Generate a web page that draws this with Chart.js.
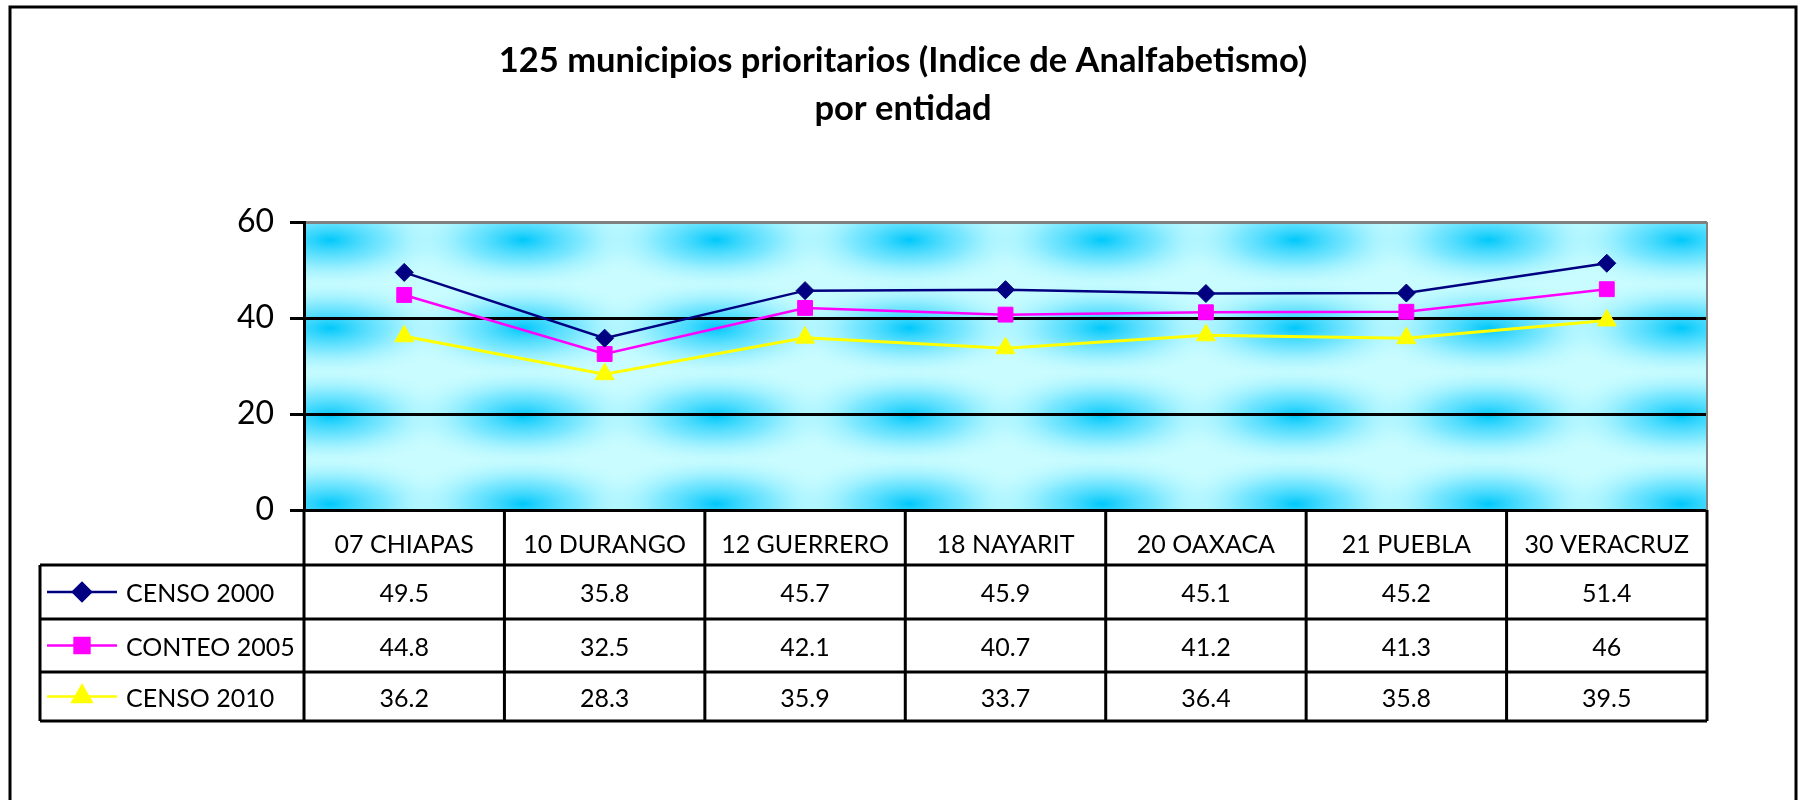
<!DOCTYPE html>
<html>
<head>
<meta charset="utf-8">
<script src="https://cdn.jsdelivr.net/npm/chart.js@4"></script>
<style>
  body { margin: 0; background: #fff; }
  #caja { width: 1805px; height: 800px; }
</style>
</head>
<body>
<div id="caja"><canvas id="graficoAnalfabetismo"></canvas></div>
<script>
// datos
const categorias = ['07 CHIAPAS', '10 DURANGO', '12 GUERRERO', '18 NAYARIT', '20 OAXACA', '21 PUEBLA', '30 VERACRUZ'];
const series = ['CENSO 2000', 'CONTEO 2005', 'CENSO 2010'];
const censo2000 = [49.5, 35.8, 45.7, 45.9, 45.1, 45.2, 51.4];
const conteo2005 = [44.8, 32.5, 42.1, 40.7, 41.2, 41.3, 46];
const censo2010 = [36.2, 28.3, 35.9, 33.7, 36.4, 35.8, 39.5];
const marcasY = [0, 20, 40, 60];
const titulo = ['125 municipios prioritarios (Indice de Analfabetismo)', 'por entidad'];

document.addEventListener('DOMContentLoaded', () => {
    const colores = ['#000080', '#FF00FF', '#FFFF00'];
    const formas = ['rectRot', 'rect', 'triangle'];
    const radios = [9, 10.5, 11];
    const valores = [censo2000, conteo2005, censo2010];
    const fuente = 'Lato, "DejaVu Sans", sans-serif';
    const filas = [565, 619, 672, 721]; // bordes de la tabla de datos
    const tablaIzq = 40;

    // fondo azul con manchas
    const fondo = {
        id: 'fondo',
        beforeDraw(chart) {
            const { ctx, chartArea: a } = chart;
            ctx.save();
            ctx.fillStyle = '#fff';
            ctx.fillRect(0, 0, chart.width, chart.height);
            ctx.beginPath();
            ctx.rect(a.left, a.top, a.width, a.height);
            ctx.clip();
            ctx.fillStyle = '#c8fcff';
            ctx.fillRect(a.left, a.top, a.width, a.height);
            const pasoX = 193, pasoY = 88;
            for (let y = a.top + 18 - pasoY; y < a.bottom + pasoY; y += pasoY) {
                for (let x = a.left + 26 - pasoX; x < a.right + pasoX; x += pasoX) {
                    ctx.save();
                    ctx.translate(x, y);
                    ctx.scale(1, 0.4);
                    const g = ctx.createRadialGradient(0, 0, 0, 0, 0, 122);
                    g.addColorStop(0, 'rgba(0,200,250,1)');
                    g.addColorStop(0.45, 'rgba(80,220,255,0.65)');
                    g.addColorStop(1, 'rgba(190,248,255,0)');
                    ctx.fillStyle = g;
                    ctx.fillRect(-125, -125, 250, 250);
                    ctx.restore();
                }
            }
            ctx.restore();
        }
    };

    // titulo, marco y tabla de datos
    const tabla = {
        id: 'tabla',
        afterDraw(chart) {
            const { ctx, chartArea: a } = chart;
            const xs = chart.scales.x;
            const paso = (xs.right - xs.left) / categorias.length;
            ctx.save();

            ctx.fillStyle = '#000';
            ctx.font = 'bold 34.5px ' + fuente;
            ctx.textAlign = 'center';
            ctx.textBaseline = 'middle';
            ctx.fillText(titulo[0], 903, 61);
            ctx.fillText(titulo[1], 903, 109);

            ctx.strokeStyle = '#000';
            ctx.lineWidth = 3;
            ctx.strokeRect(10, 7, 1786, 830);

            // borde derecho del area de trazado
            ctx.strokeStyle = '#808080';
            ctx.lineWidth = 2;
            ctx.beginPath();
            ctx.moveTo(a.right, a.top);
            ctx.lineTo(a.right, a.bottom);
            ctx.stroke();

            ctx.strokeStyle = '#000';
            ctx.lineWidth = 3;
            ctx.beginPath();
            filas.forEach(y => { ctx.moveTo(tablaIzq, y); ctx.lineTo(xs.right, y); });
            ctx.moveTo(tablaIzq, filas[0]);
            ctx.lineTo(tablaIzq, filas[3]);
            for (let i = 0; i <= categorias.length; i++) {
                const x = xs.left + i * paso;
                ctx.moveTo(x, a.bottom);
                ctx.lineTo(x, filas[3]);
            }
            ctx.stroke();

            ctx.font = '25px ' + fuente;
            series.forEach((nombre, s) => {
                const yc = (filas[s] + filas[s + 1]) / 2;
                ctx.strokeStyle = colores[s];
                ctx.fillStyle = colores[s];
                ctx.lineWidth = 2.5;
                ctx.beginPath();
                ctx.moveTo(47, yc);
                ctx.lineTo(117, yc);
                ctx.stroke();
                Chart.helpers.drawPoint(ctx, { pointStyle: formas[s], radius: radios[s], rotation: 0, borderWidth: 1 }, 82, yc);
                ctx.fillStyle = '#000';
                ctx.textAlign = 'left';
                ctx.fillText(nombre, 126, yc + 2);
                ctx.textAlign = 'center';
                valores[s].forEach((v, i) => {
                    ctx.fillText(String(v), xs.getPixelForValue(i), yc + 2);
                });
            });
            ctx.restore();
        }
    };

    const ctx = document.getElementById('graficoAnalfabetismo').getContext('2d');
    const grafico = new Chart(ctx, {
        type: 'line',
        data: {
            labels: categorias,
            datasets: series.map((nombre, s) => ({
                label: nombre,
                data: valores[s],
                borderColor: colores[s],
                backgroundColor: colores[s],
                borderWidth: s === 2 ? 3 : 2.5,
                pointStyle: formas[s],
                pointRadius: radios[s],
                pointBorderWidth: 1,
                fill: false,
                tension: 0
            }))
        },
        options: {
            responsive: true,
            maintainAspectRatio: false,
            animation: false,
            layout: { padding: { left: 200, right: 98, top: 222, bottom: 235 } },
            scales: {
                x: {
                    offset: true,
                    grid: { display: false },
                    border: { display: true, color: '#000', width: 3 },
                    ticks: { color: '#000', font: { family: fuente, size: 25 }, padding: 12, maxRotation: 0, autoSkip: false },
                    afterFit: s => { s.height = 55; }
                },
                y: {
                    min: marcasY[0],
                    max: marcasY[marcasY.length - 1],
                    afterBuildTicks: s => { s.ticks = marcasY.map(v => ({ value: v })); },
                    grid: {
                        color: c => (c.tick && c.tick.value === 60 ? '#808080' : '#000'),
                        lineWidth: 3,
                        tickLength: 14,
                        tickColor: '#000'
                    },
                    border: { display: true, color: '#000', width: 3 },
                    ticks: { color: '#000', font: { family: fuente, size: 32 }, padding: 16 },
                    afterFit: s => { s.width = 104; }
                }
            },
            plugins: {
                legend: { display: false },
                title: { display: false },
                tooltip: { enabled: false }
            }
        },
        plugins: [fondo, tabla]
    });
});
</script>
</body>
</html>
